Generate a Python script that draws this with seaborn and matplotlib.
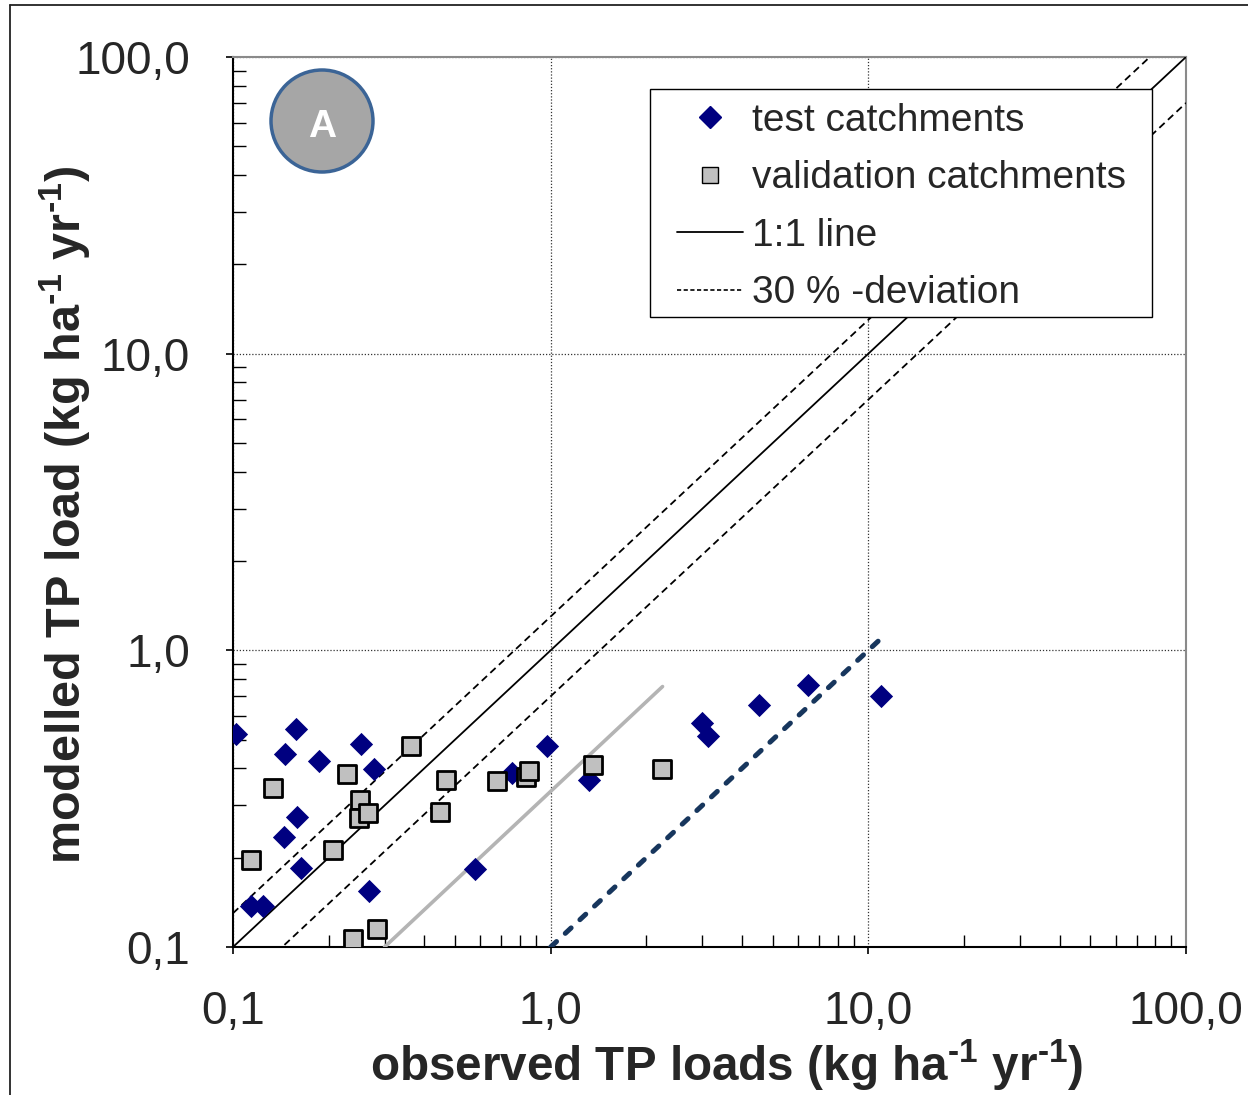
import numpy as np
import pandas as pd
import matplotlib
matplotlib.use("Agg")
import matplotlib.pyplot as plt
import seaborn as sns
from matplotlib.lines import Line2D
from matplotlib.patches import Ellipse, Rectangle
from matplotlib.ticker import LogLocator, NullFormatter

# ---------------- data ----------------
test_obs = [0.1025, 0.158, 0.146, 0.186, 0.253, 0.278, 0.159, 0.145, 0.164, 0.268,
            0.114, 0.124, 0.974, 0.755, 1.32, 0.579, 3.00, 3.12, 4.53, 6.44, 10.96]
test_mod = [0.524, 0.545, 0.449, 0.422, 0.484, 0.399, 0.274, 0.234, 0.184, 0.155,
            0.137, 0.137, 0.477, 0.386, 0.366, 0.183, 0.569, 0.516, 0.653, 0.762, 0.700]

val_obs = [0.363, 0.228, 0.134, 0.469, 0.251, 0.249, 0.266, 0.448, 0.207, 0.114,
           0.285, 0.238, 0.680, 0.838, 0.852, 1.357, 2.246]
val_mod = [0.475, 0.384, 0.344, 0.366, 0.314, 0.273, 0.284, 0.285, 0.212, 0.197,
           0.115, 0.106, 0.362, 0.375, 0.393, 0.412, 0.399]

ref_line = [0.1, 100.0]          # 1:1 line extent
deviation = 0.30                 # 30 % deviation band
gray_line_x = [0.30, 2.25]
gray_line_y = [0.10, 0.755]
blue_line_x = [1.0, 11.0]
blue_line_y = [0.10, 1.10]

tick_vals = [0.1, 1, 10, 100]
tick_labels = ["0,1", "1,0", "10,0", "100,0"]
legend_labels = ["test catchments", "validation catchments", "1:1 line", "30 % -deviation"]

# ---------------- style ----------------
sns.set_style("white")
plt.rcParams["font.family"] = ["Liberation Sans", "DejaVu Sans"]
plt.rcParams["mathtext.fontset"] = "custom"
plt.rcParams["mathtext.rm"] = "Liberation Sans"
plt.rcParams["mathtext.bf"] = "Liberation Sans:bold"
plt.rcParams["mathtext.default"] = "regular"

W, H = 1248, 1095
fig = plt.figure(figsize=(W / 100, H / 100), dpi=100)
ax = fig.add_axes([233 / W, 1 - 947 / H, 953 / W, 890 / H])

df_test = pd.DataFrame({"obs": test_obs, "mod": test_mod})
df_val = pd.DataFrame({"obs": val_obs, "mod": val_mod})

ax.set_xscale("log")
ax.set_yscale("log")

# reference lines
r = np.array(ref_line)
ax.plot(r, r, color="black", lw=1.3, zorder=3)
ax.plot(r, r * (1 + deviation), color="black", lw=1.3, ls=(0, (4, 2.5)), zorder=3)
ax.plot(r, r * (1 - deviation), color="black", lw=1.3, ls=(0, (4, 2.5)), zorder=3)
ax.plot(gray_line_x, gray_line_y, color="#b4b4b4", lw=2.6, zorder=3)
ax.plot(blue_line_x, blue_line_y, color="#17365d", lw=3.6, ls=(0, (1.6, 2.4)),
        dash_capstyle="round", zorder=3)

sns.scatterplot(data=df_test, x="obs", y="mod", marker="D", s=140, color="#000080",
                edgecolor="#000080", linewidth=0, ax=ax, zorder=5)
sns.scatterplot(data=df_val, x="obs", y="mod", marker="s", s=150, color="#c0c0c0",
                edgecolor="black", linewidth=2.0, ax=ax, zorder=6)

ax.set_xlim(0.1, 100)
ax.set_ylim(0.1, 100)

# grid and ticks
ax.grid(which="major", color="#333333", ls=(0, (1, 1.5)), lw=0.9)
ax.grid(which="minor", visible=False)
for axis in (ax.xaxis, ax.yaxis):
    axis.set_minor_locator(LogLocator(base=10, subs=np.arange(2, 10)))
    axis.set_minor_formatter(NullFormatter())
ax.set_xticks(tick_vals, tick_labels)
ax.set_yticks(tick_vals, tick_labels)
ax.tick_params(which="major", direction="out", length=5, width=1.2, labelsize=33,
               pad=26, color="black", bottom=True, left=True, top=False, right=False)
ax.tick_params(which="minor", direction="in", length=9, width=1.0, color="black",
               bottom=True, left=True, top=False, right=False)
ax.set_xlim(0.1, 100)
ax.set_ylim(0.1, 100)

for s in ("left", "bottom"):
    ax.spines[s].set_color("black")
    ax.spines[s].set_linewidth(1.5)
for s in ("top", "right"):
    ax.spines[s].set_color("#8a8a8a")
    ax.spines[s].set_linewidth(1.5)

ax.set_xlabel("observed TP loads (kg ha$^{\u20101}$ yr$^{\u20101}$)", fontsize=34.3,
              fontweight="bold")
ax.set_ylabel("modelled TP load (kg ha$^{\u20101}$ yr$^{\u20101}$)", fontsize=35,
              fontweight="bold")
ax.xaxis.label.set_va("center")
ax.xaxis.set_label_coords((727 - 233) / 953, (947 - 1065) / 890)
ax.yaxis.label.set_va("center")
ax.yaxis.set_label_coords((65 - 233) / 953, (947 - 515) / 890)

# legend frame (opaque box) and legend content
ax.add_patch(Rectangle(((650 - 233) / 953, (947 - 317) / 890), 502 / 953, 228 / 890,
                       transform=ax.transAxes, facecolor="white", edgecolor="black",
                       lw=1.0, zorder=9, clip_on=False))
handles = [
    Line2D([], [], marker="D", ls="none", color="#000080", markersize=11),
    Line2D([], [], marker="s", ls="none", markerfacecolor="#c0c0c0",
           markeredgecolor="black", markeredgewidth=1.0, markersize=12),
    Line2D([], [], color="black", lw=1.3),
    Line2D([], [], color="black", lw=1.2, ls=(0, (2.5, 1.5))),
]
leg = ax.legend(handles, legend_labels, loc="upper left",
                bbox_to_anchor=((677 - 233) / 953, (947 - 103) / 890),
                borderaxespad=0, borderpad=0, fontsize=28, handlelength=1.7,
                handletextpad=0.23, labelspacing=0.55, frameon=False)
leg.set_zorder(10)

# badge "A"
fig.add_artist(Ellipse((322 / W, 1 - 121 / H), width=102 / W, height=102 / H,
                       transform=fig.transFigure, facecolor="#a6a6a6",
                       edgecolor="#3b6496", lw=2.5, zorder=20))
fig.text(322 / W, 1 - 127 / H, "A", color="white", fontsize=28, fontweight="bold",
         ha="center", va="center", zorder=21)

# outer chart border
fig.add_artist(Line2D([10 / W, 10 / W], [0, 1 - 5 / H], transform=fig.transFigure,
                      color="#222222", lw=1.3))
fig.add_artist(Line2D([10 / W, 1], [1 - 5 / H, 1 - 5 / H], transform=fig.transFigure,
                      color="#222222", lw=1.3))

fig.savefig("out.png", dpi=100)
